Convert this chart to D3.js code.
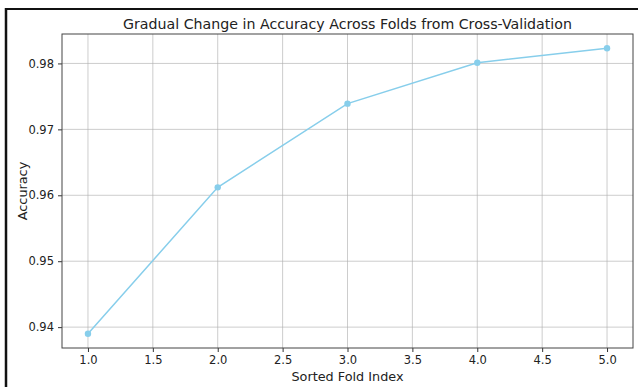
<!DOCTYPE html>
<html>
<head>
<meta charset="utf-8">
<script src="https://cdn.jsdelivr.net/npm/d3@7"></script>
<style>
  body { margin: 0; background: #fff; }
  text { font-family: "DejaVu Sans", sans-serif; fill: #222; }
</style>
</head>
<body>
<svg id="svg"></svg>
<script>
// fold index and accuracy
let folds = [1, 2, 3, 4, 5];
let accuracy = [0.9390, 0.9612, 0.9739, 0.9801, 0.9823];
let xTicks = [1.0, 1.5, 2.0, 2.5, 3.0, 3.5, 4.0, 4.5, 5.0];
let yTicks = [0.94, 0.95, 0.96, 0.97, 0.98];

const width = 638;
const height = 387;

let svg = d3.select("#svg")
    .attr("width", width)
    .attr("height", height);

// frame round the figure
svg.append("line")
    .attr("x1", 6).attr("x2", width)
    .attr("y1", 9).attr("y2", 9)
    .attr("stroke", "#111").attr("stroke-width", 2);
svg.append("line")
    .attr("x1", 6).attr("x2", 6)
    .attr("y1", 8).attr("y2", height)
    .attr("stroke", "#111").attr("stroke-width", 2.5);

const margin = { top: 34, right: 5, bottom: 39, left: 62 };
let chartWidth = width - margin.left - margin.right;
let chartHeight = height - margin.top - margin.bottom;

let chart = svg.append("g")
    .attr("transform", "translate(" + margin.left + "," + margin.top + ")");

// matplotlib style 5% padding
let xPad = (d3.max(folds) - d3.min(folds)) * 0.05;
let yPad = (d3.max(accuracy) - d3.min(accuracy)) * 0.05;

let xScale = d3.scaleLinear()
    .domain([d3.min(folds) - xPad, d3.max(folds) + xPad])
    .range([0, chartWidth]);

let yScale = d3.scaleLinear()
    .domain([d3.min(accuracy) - yPad, d3.max(accuracy) + yPad])
    .range([chartHeight, 0]);

// grid
chart.append("g")
    .selectAll("line")
    .data(xTicks)
    .join("line")
    .attr("x1", d => xScale(d)).attr("x2", d => xScale(d))
    .attr("y1", 0).attr("y2", chartHeight)
    .attr("stroke", "#b0b0b0").attr("stroke-opacity", 0.7).attr("stroke-width", 0.9);

chart.append("g")
    .selectAll("line")
    .data(yTicks)
    .join("line")
    .attr("x1", 0).attr("x2", chartWidth)
    .attr("y1", d => yScale(d)).attr("y2", d => yScale(d))
    .attr("stroke", "#b0b0b0").attr("stroke-opacity", 0.7).attr("stroke-width", 0.9);

// axes
let xAxis = chart.append("g")
    .attr("transform", `translate(0,${chartHeight})`)
    .call(d3.axisBottom(xScale).tickValues(xTicks).tickFormat(d3.format(".1f")).tickSizeOuter(0).tickSize(4).tickPadding(4));

let yAxis = chart.append("g")
    .call(d3.axisLeft(yScale).tickValues(yTicks).tickFormat(d3.format(".2f")).tickSizeOuter(0).tickSize(4).tickPadding(4));

[xAxis, yAxis].forEach(a => {
    a.select(".domain").remove();
    a.selectAll("line").attr("stroke", "#333");
    a.selectAll("text").style("font-size", "11.5px").style("fill", "#222");
});

// plot frame
chart.append("rect")
    .attr("width", chartWidth)
    .attr("height", chartHeight)
    .attr("fill", "none")
    .attr("stroke", "#444")
    .attr("stroke-width", 1);

let line = d3.line()
    .x((d, i) => xScale(folds[i]))
    .y(d => yScale(d));

chart.append("path")
    .datum(accuracy)
    .attr("d", line)
    .attr("fill", "none")
    .attr("stroke", "#87ceeb")
    .attr("stroke-width", 1.5);

chart.selectAll(".dot")
    .data(accuracy)
    .join("circle")
    .attr("class", "dot")
    .attr("cx", (d, i) => xScale(folds[i]))
    .attr("cy", d => yScale(d))
    .attr("r", 3.2)
    .attr("fill", "#87ceeb");

// titles
svg.append("text")
    .attr("x", margin.left + chartWidth / 2)
    .attr("y", 29)
    .attr("text-anchor", "middle")
    .style("font-size", "14.2px")
    .text("Gradual Change in Accuracy Across Folds from Cross-Validation");

svg.append("text")
    .attr("x", margin.left + chartWidth / 2)
    .attr("y", 381)
    .attr("text-anchor", "middle")
    .style("font-size", "12.8px")
    .text("Sorted Fold Index");

svg.append("text")
    .attr("transform", `translate(27,${margin.top + chartHeight / 2}) rotate(-90)`)
    .attr("text-anchor", "middle")
    .style("font-size", "12.8px")
    .text("Accuracy");
</script>
</body>
</html>
